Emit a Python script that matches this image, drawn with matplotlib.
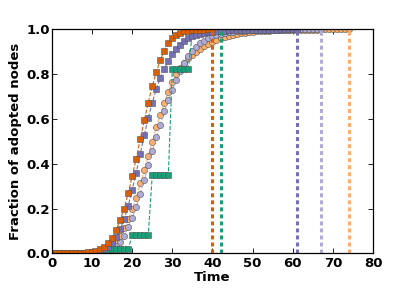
import matplotlib
matplotlib.use("Agg")
import matplotlib.pyplot as plt
import numpy as np

# fraction of adopted nodes per time step
dark_orange = [0.0005, 0.0005, 0.001, 0.001, 0.001, 0.001, 0.002, 0.002, 0.003, 0.005,
               0.008, 0.012, 0.019, 0.030, 0.047, 0.070, 0.105, 0.148, 0.200, 0.268,
               0.343, 0.423, 0.509, 0.593, 0.673, 0.745, 0.809, 0.863, 0.905, 0.937,
               0.960, 0.976, 0.985, 0.991, 0.994, 0.996, 0.998, 0.999, 0.999, 1.0, 1.0]

green = [0.0, 0.0, 0.0, 0.0, 0.0, 0.0, 0.0, 0.0, 0.0, 0.0,
         0.003, 0.003, 0.003, 0.003, 0.003, 0.018, 0.018, 0.018, 0.018, 0.018,
         0.080, 0.080, 0.080, 0.080, 0.080, 0.349, 0.349, 0.349, 0.349, 0.349,
         0.823, 0.823, 0.823, 0.823, 0.823, 0.990, 0.990, 0.990, 0.990, 0.990,
         1.0, 1.0, 1.0]

dark_purple = [0.0005, 0.0005, 0.001, 0.001, 0.001, 0.001, 0.001, 0.002, 0.002, 0.003,
               0.005, 0.008, 0.012, 0.018, 0.027, 0.045, 0.071, 0.107, 0.152, 0.211,
               0.283, 0.360, 0.443, 0.527, 0.604, 0.672, 0.733, 0.783, 0.824, 0.858,
               0.889, 0.913, 0.932, 0.948, 0.960, 0.969, 0.976, 0.981, 0.985, 0.988,
               0.990, 0.992, 0.993, 0.994, 0.995, 0.996, 0.996, 0.997, 0.997, 0.998,
               0.998, 0.998, 0.999, 0.999, 0.999, 0.999, 0.999, 1.0, 1.0, 1.0,
               1.0, 1.0]

light_purple = [0.0005, 0.0005, 0.0005, 0.001, 0.001, 0.001, 0.001, 0.001, 0.002, 0.002,
                0.003, 0.004, 0.006, 0.009, 0.012, 0.020, 0.034, 0.052, 0.079, 0.117,
                0.159, 0.207, 0.266, 0.328, 0.393, 0.458, 0.518, 0.571, 0.634, 0.684,
                0.730, 0.774, 0.815, 0.850, 0.880, 0.903, 0.922, 0.938, 0.950, 0.960,
                0.968, 0.975, 0.980, 0.984, 0.987, 0.990, 0.992, 0.993, 0.994, 0.995,
                0.996, 0.997, 0.997, 0.998, 0.998, 0.998, 0.999, 0.999, 0.999, 0.999,
                1.0, 1.0, 1.0, 1.0, 1.0, 1.0, 1.0, 1.0]

light_orange = [0.0005, 0.0005, 0.001, 0.001, 0.001, 0.001, 0.001, 0.002, 0.002, 0.003,
                0.005, 0.007, 0.011, 0.017, 0.024, 0.035, 0.052, 0.076, 0.112, 0.153,
                0.198, 0.248, 0.312, 0.370, 0.434, 0.499, 0.562, 0.619, 0.672, 0.722,
                0.765, 0.800, 0.826, 0.851, 0.870, 0.886, 0.900, 0.913, 0.925, 0.935,
                0.944, 0.952, 0.959, 0.965, 0.970, 0.975, 0.979, 0.982, 0.985, 0.987,
                0.989, 0.991, 0.992, 0.993, 0.994, 0.995, 0.996, 0.996, 0.997, 0.997,
                0.998, 0.998, 0.998, 0.999, 0.999, 0.999, 0.999, 1.0, 1.0, 1.0,
                1.0, 1.0, 1.0, 1.0, 1.0]

series = [
    (light_orange, '#fdae6b', 'o'),
    (light_purple, '#aeabd4', 'o'),
    (green, '#1b9e77', 's'),
    (dark_purple, '#7570b3', 's'),
    (dark_orange, '#d95f02', 's'),
]

plt.rcParams['font.family'] = 'DejaVu Sans'
plt.rcParams['font.weight'] = 'bold'

fig = plt.figure(figsize=(4.15, 2.91), dpi=100)
ax = fig.add_axes([0.125, 0.1295, 0.774, 0.7698])

for values, color, marker in series:
    t = np.arange(len(values))
    ax.plot(t, values, linestyle='--', linewidth=0.8, color=color,
            marker=marker, markersize=4.5, markerfacecolor=color,
            markeredgecolor='#555555', markeredgewidth=0.4)

# final time of each run
for values, color, marker in series:
    ax.axvline(len(values) - 1, color=color, linewidth=2.2,
               linestyle=(0, (1.3, 1.0)))

ax.set_xlim(0, 80)
ax.set_ylim(0, 1.0)
ax.set_xticks(range(0, 81, 10))
ax.set_yticks([0.0, 0.2, 0.4, 0.6, 0.8, 1.0])
ax.set_yticklabels(['0.0', '0.2', '0.4', '0.6', '0.8', '1.0'])
ax.tick_params(direction='in', top=True, right=True, length=3.5, width=0.6,
               labelsize=9.5)
ax.tick_params(axis='y', pad=1.5)
ax.tick_params(axis='x', pad=2.5)
for lab in ax.get_xticklabels() + ax.get_yticklabels():
    lab.set_fontweight('bold')
for sp in ax.spines.values():
    sp.set_linewidth(0.9)

ax.set_xlabel('Time', fontsize=9.5, fontweight='bold', labelpad=1)
ax.set_ylabel('Fraction of adopted nodes', fontsize=9.5, fontweight='bold', labelpad=3)

fig.savefig('out.png', dpi=100)
